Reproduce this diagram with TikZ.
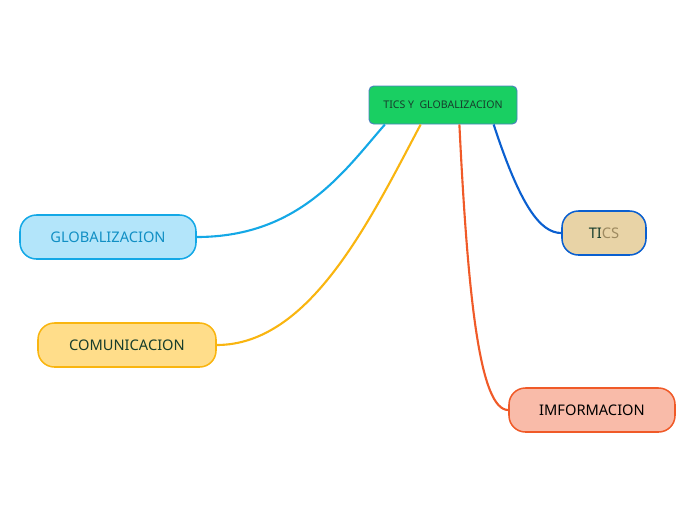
\documentclass[tikz,border=0pt]{standalone}
\usepackage{fontspec}
\setmainfont{Noto Sans}
\usepackage{tikz}
\usetikzlibrary{positioning, calc}

\definecolor{rootgreen}{HTML}{19CF62}
\definecolor{rootline}{HTML}{4A80C0}
\definecolor{globfill}{HTML}{B3E5FA}
\definecolor{globline}{HTML}{14A8E6}
\definecolor{comfill}{HTML}{FFDD8A}
\definecolor{comline}{HTML}{F9B510}
\definecolor{ticsfill}{HTML}{E8D3A6}
\definecolor{ticsline}{HTML}{0A5FD0}
\definecolor{imffill}{HTML}{F9BBA9}
\definecolor{imfline}{HTML}{F05A28}
\definecolor{darktext}{HTML}{173D2C}
\definecolor{tantext}{HTML}{9E8A60}

\tikzset{
  topic/.style={draw, line width=1.3pt, rounded corners=14pt, minimum height=44*0.03cm,
    font=\fontsize{12.5}{14}\selectfont, inner sep=0pt},
  branch/.style={line width=1.8pt}
}

\begin{document}
\begin{tikzpicture}[x=0.03cm, y=-0.03cm]
    \useasboundingbox (0,0) rectangle (696,520);

    % Central idea
    \node[draw=rootline, fill=rootgreen, line width=0.8pt, rounded corners=4pt,
      minimum width=148*0.03cm, minimum height=38*0.03cm,
      font=\fontsize{9}{10}\selectfont, text=darktext] (root) at (443,105) {TICS Y \ GLOBALIZACION};

    % Topics
    \node[topic, fill=globfill, draw=globline, text=globline!85!black, minimum width=176*0.03cm] (glob) at (108,237) {GLOBALIZACION};
    \node[topic, fill=comfill, draw=comline, text=darktext, minimum width=178*0.03cm] (com) at (127,345) {COMUNICACION};
    \node[topic, fill=ticsfill, draw=ticsline, minimum width=84*0.03cm] (tics) at (604,233) {\textcolor{darktext}{TI}\textcolor{tantext}{CS}};
    \node[topic, fill=imffill, draw=imfline, text=black, minimum width=166*0.03cm] (imf) at (592,410) {IMFORMACION};

    % Branches
    \coordinate (r1) at ($(root.south west)!0.11!(root.south east)$);
    \coordinate (r2) at ($(root.south west)!0.35!(root.south east)$);
    \coordinate (r3) at ($(root.south west)!0.61!(root.south east)$);
    \coordinate (r4) at ($(root.south west)!0.84!(root.south east)$);
    \draw[branch, globline] (glob.east) .. controls (300,237) and (345,170) .. (r1);
    \draw[branch, comline] (com.east) .. controls (310,345) and (370,220) .. (r2);
    \draw[branch, imfline] (imf.west) .. controls (480,410) and (468,300) .. (r3);
    \draw[branch, ticsline] (tics.west) .. controls (540,233) and (520,205) .. (r4);
\end{tikzpicture}
\end{document}
